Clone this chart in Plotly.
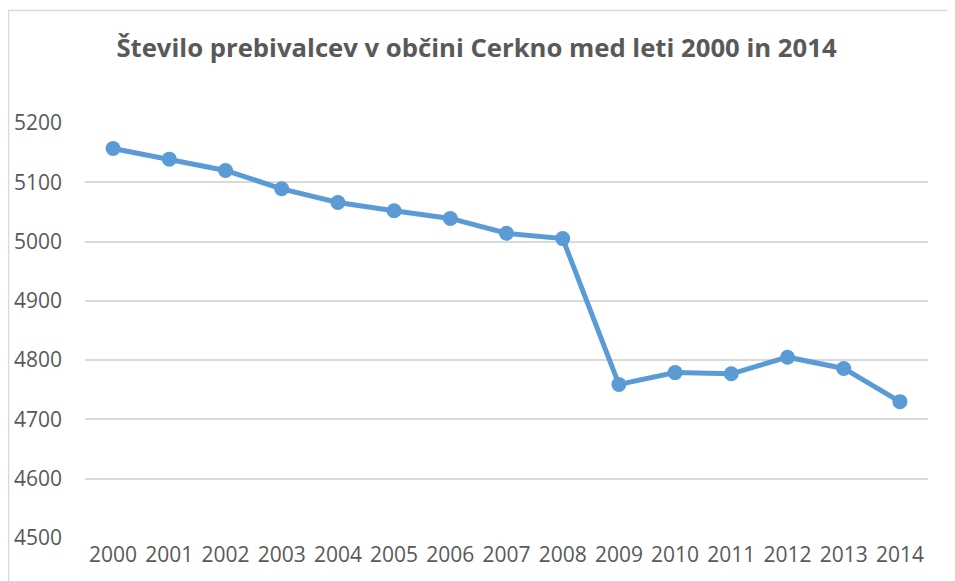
import plotly.graph_objects as go

years = ["2000", "2001", "2002", "2003", "2004", "2005", "2006", "2007",
         "2008", "2009", "2010", "2011", "2012", "2013", "2014"]
population = [5157, 5139, 5120, 5089, 5066, 5052, 5039, 5014,
              5005, 4759, 4779, 4777, 4805, 4786, 4730]
y_ticks = [4500, 4600, 4700, 4800, 4900, 5000, 5100, 5200]

title_text = "Število prebivalcev v občini Cerkno med leti 2000 in 2014"

W, H = 947, 573
L, R, T, B = 77, 27, 115, 43
PW, PH = W - L - R, H - T - B

fig = go.Figure()
fig.add_trace(go.Scatter(
    x=years, y=population, mode="lines+markers",
    line=dict(color="#5B9BD5", width=5),
    marker=dict(color="#5B9BD5", size=15),
    showlegend=False, cliponaxis=False,
))

fig.update_layout(
    width=W, height=H,
    margin=dict(l=L, r=R, t=T, b=B, autoexpand=False),
    paper_bgcolor="white", plot_bgcolor="white",
    title=dict(text=title_text, xref="paper", x=(476.5 - 8 - L) / PW, xanchor="center",
               y=1 - 40 / H, yanchor="middle",
               font=dict(family="Open Sans", size=25.7, color="#595959", weight="bold")),
    xaxis=dict(type="category", showgrid=False, zeroline=False, showline=False,
               tickfont=dict(family="Open Sans", size=21, color="#595959"),
               ticks="", range=[-0.5, 14.5], ticklabelstandoff=2, automargin=False),
    yaxis=dict(range=[4500, 5200], tickvals=y_ticks, showgrid=True,
               gridcolor="#D9D9D9", gridwidth=1.5, zeroline=False, showline=False,
               tickfont=dict(family="Open Sans", size=21, color="#595959"),
               ticks="", ticklabelstandoff=22, automargin=False),
    shapes=[dict(type="rect", xref="paper", yref="paper",
                 x0=(0.5 - L) / PW, x1=(W + 20 - L) / PW,
                 y0=-(B + 20) / PH, y1=1 + (T - 2.5) / PH,
                 line=dict(color="#D9D9D9", width=1.5), fillcolor="rgba(0,0,0,0)", layer="below")],
)

fig.write_html("out.html")
